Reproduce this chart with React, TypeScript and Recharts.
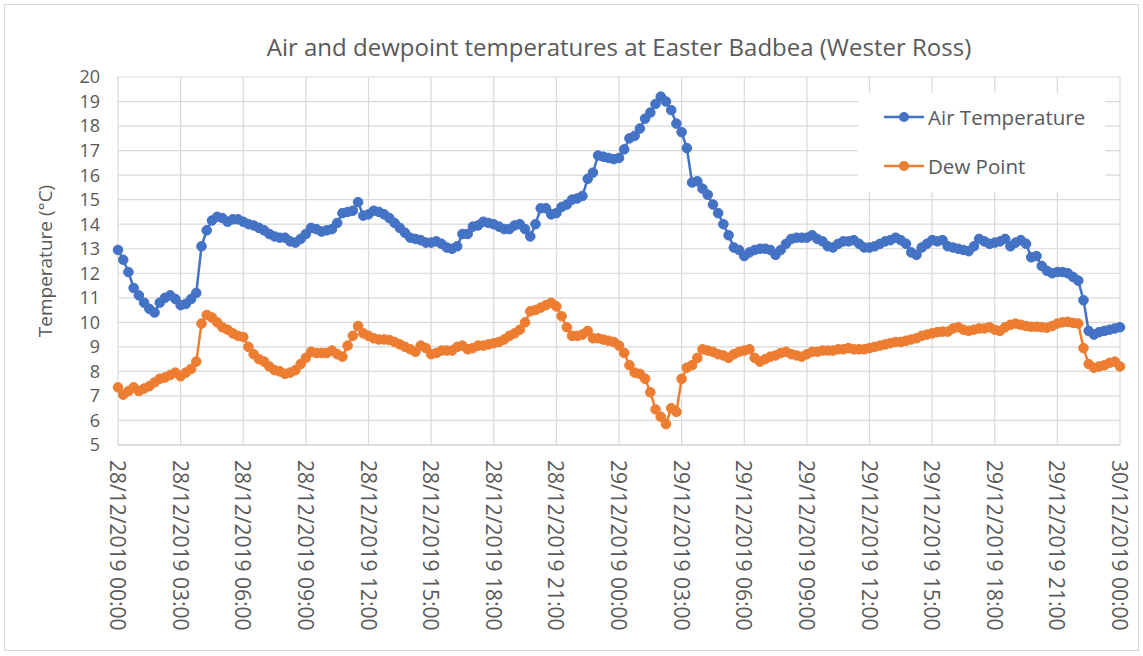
import React from "react";
import {
  LineChart,
  Line,
  XAxis,
  YAxis,
  CartesianGrid,
  Legend,
} from "recharts";

// readings every 15 minutes from 28/12/2019 00:00 to 30/12/2019 00:00
const STEP_HOURS = 0.25;

// four readings per hour, one row per hour
const airTemp = [
  12.95, 12.55, 12.05, 11.4,
  11.1, 10.8, 10.55, 10.4,
  10.8, 11.0, 11.1, 10.95,
  10.7, 10.75, 10.95, 11.2,
  13.1, 13.75, 14.15, 14.3,
  14.25, 14.1, 14.2, 14.2,
  14.1, 14.0, 13.95, 13.85,
  13.75, 13.6, 13.5, 13.45,
  13.45, 13.3, 13.25, 13.4,
  13.6, 13.85, 13.8, 13.7,
  13.75, 13.8, 14.05, 14.45,
  14.5, 14.55, 14.9, 14.35,
  14.4, 14.55, 14.5, 14.4,
  14.25, 14.05, 13.85, 13.65,
  13.45, 13.4, 13.35, 13.25,
  13.25, 13.3, 13.2, 13.05,
  13.0, 13.1, 13.6, 13.6,
  13.9, 13.95, 14.1, 14.05,
  14.0, 13.9, 13.8, 13.8,
  13.95, 14.0, 13.8, 13.5,
  14.0, 14.65, 14.65, 14.4,
  14.45, 14.7, 14.8, 15.0,
  15.05, 15.15, 15.85, 16.1,
  16.8, 16.75, 16.7, 16.65,
  16.7, 17.05, 17.5, 17.6,
  17.9, 18.3, 18.55, 18.9,
  19.2, 19.0, 18.65, 18.1,
  17.75, 17.1, 15.7, 15.75,
  15.45, 15.2, 14.8, 14.45,
  14.0, 13.55, 13.05, 12.95,
  12.7, 12.85, 12.95, 13.0,
  13.0, 12.95, 12.75, 12.95,
  13.2, 13.4, 13.45, 13.45,
  13.45, 13.55, 13.4, 13.3,
  13.1, 13.05, 13.2, 13.3,
  13.3, 13.35, 13.2, 13.05,
  13.05, 13.1, 13.2, 13.3,
  13.35, 13.45, 13.35, 13.2,
  12.85, 12.75, 13.05, 13.2,
  13.35, 13.3, 13.35, 13.1,
  13.05, 13.0, 12.95, 12.9,
  13.1, 13.4, 13.3, 13.2,
  13.25, 13.3, 13.4, 13.1,
  13.25, 13.35, 13.2, 12.65,
  12.7, 12.3, 12.1, 12.0,
  12.05, 12.05, 12.0, 11.85,
  11.7, 10.9, 9.65, 9.5,
  9.6, 9.65, 9.7, 9.75,
  9.8,
];

const dewPoint = [
  7.35, 7.05, 7.2, 7.35,
  7.2, 7.3, 7.4, 7.55,
  7.7, 7.75, 7.85, 7.95,
  7.8, 7.95, 8.1, 8.4,
  9.95, 10.3, 10.2, 10.0,
  9.8, 9.7, 9.55, 9.45,
  9.4, 9.0, 8.7, 8.5,
  8.4, 8.2, 8.05, 8.0,
  7.9, 7.95, 8.05, 8.3,
  8.55, 8.8, 8.75, 8.75,
  8.75, 8.85, 8.7, 8.6,
  9.05, 9.45, 9.85, 9.55,
  9.45, 9.35, 9.3, 9.3,
  9.28, 9.2, 9.1, 9.0,
  8.9, 8.8, 9.05, 8.95,
  8.7, 8.75, 8.85, 8.85,
  8.85, 9.0, 9.05, 8.9,
  8.95, 9.05, 9.05, 9.1,
  9.15, 9.2, 9.3, 9.45,
  9.55, 9.7, 10.0, 10.45,
  10.5, 10.6, 10.7, 10.8,
  10.65, 10.25, 9.8, 9.45,
  9.45, 9.5, 9.65, 9.35,
  9.35, 9.3, 9.25, 9.2,
  9.05, 8.75, 8.25, 7.95,
  7.9, 7.7, 7.15, 6.45,
  6.15, 5.85, 6.5, 6.35,
  7.7, 8.15, 8.25, 8.55,
  8.9, 8.85, 8.8, 8.7,
  8.65, 8.55, 8.7, 8.8,
  8.85, 8.9, 8.55, 8.4,
  8.5, 8.6, 8.65, 8.75,
  8.8, 8.7, 8.65, 8.6,
  8.7, 8.8, 8.8, 8.85,
  8.85, 8.85, 8.9, 8.9,
  8.95, 8.9, 8.9, 8.9,
  8.95, 9.0, 9.05, 9.1,
  9.15, 9.2, 9.2, 9.25,
  9.3, 9.35, 9.45, 9.5,
  9.55, 9.6, 9.62, 9.62,
  9.75, 9.8, 9.7, 9.65,
  9.7, 9.75, 9.75, 9.8,
  9.7, 9.65, 9.8, 9.9,
  9.95, 9.9, 9.85, 9.82,
  9.82, 9.8, 9.78, 9.85,
  9.95, 10.0, 10.02, 9.98,
  9.95, 8.95, 8.3, 8.15,
  8.2, 8.25, 8.35, 8.4,
  8.2,
];

const tickHours = [0, 3, 6, 9, 12, 15, 18, 21, 24, 27, 30, 33, 36, 39, 42, 45, 48];
const tickLabels = [
  "28/12/2019 00:00",
  "28/12/2019 03:00",
  "28/12/2019 06:00",
  "28/12/2019 09:00",
  "28/12/2019 12:00",
  "28/12/2019 15:00",
  "28/12/2019 18:00",
  "28/12/2019 21:00",
  "29/12/2019 00:00",
  "29/12/2019 03:00",
  "29/12/2019 06:00",
  "29/12/2019 09:00",
  "29/12/2019 12:00",
  "29/12/2019 15:00",
  "29/12/2019 18:00",
  "29/12/2019 21:00",
  "30/12/2019 00:00",
];
const tempTicks = [5, 6, 7, 8, 9, 10, 11, 12, 13, 14, 15, 16, 17, 18, 19, 20];

const data = airTemp.map((air, i) => ({
  t: i * STEP_HOURS,
  air,
  dew: dewPoint[i],
}));

const FONT = "'Open Sans', sans-serif";
const TEXT = "#595959";
const BLUE = "#4472C4";
const ORANGE = "#ED7D31";

function DateTick({ x, y, payload }: any) {
  const idx = tickHours.indexOf(payload.value);
  return (
    <g transform={`translate(${x},${y})`}>
      <text
        transform="rotate(90)"
        textAnchor="start"
        dominantBaseline="central"
        fill={TEXT}
        fontSize={21}
        fontFamily={FONT}
      >
        {tickLabels[idx]}
      </text>
    </g>
  );
}

function LegendBox({ payload }: any) {
  return (
    <div style={{ position: "relative", width: "100%", height: "100%" }}>
      {(payload || []).map((entry: any, i: number) => (
        <div
          key={entry.value}
          style={{
            position: "absolute",
            left: 26,
            top: 10 + i * 49,
            height: 28,
            display: "flex",
            alignItems: "center",
            whiteSpace: "nowrap",
          }}
        >
          <svg width={40} height={12}>
            <line x1={0} y1={6} x2={40} y2={6} stroke={entry.color} strokeWidth={2.5} />
            <circle cx={20} cy={6} r={5} fill={entry.color} />
          </svg>
          <span style={{ marginLeft: 4, fontSize: 20.5, color: TEXT, fontFamily: FONT }}>
            {entry.value}
          </span>
        </div>
      ))}
    </div>
  );
}

export default function App() {
  return (
    <div
      style={{
        position: "absolute",
        left: 0,
        top: 0,
        width: 1143,
        height: 656,
        background: "#fff",
        fontFamily: FONT,
      }}
    >
      <div
        style={{
          position: "absolute",
          left: 4,
          top: 4,
          width: 1133,
          height: 645,
          border: "1px solid #d9d9d9",
        }}
      />
      <div
        style={{
          position: "absolute",
          left: 0,
          width: 1238,
          top: 30,
          textAlign: "center",
          fontSize: 24,
          color: TEXT,
          whiteSpace: "nowrap",
        }}
      >
        Air and dewpoint temperatures at Easter Badbea (Wester Ross)
      </div>
      <div style={{ position: "absolute", left: 0, top: 0 }}>
        <LineChart
          width={1143}
          height={656}
          data={data}
          margin={{ top: 77, right: 23, bottom: 0, left: -28 }}
        >
          <CartesianGrid stroke="#d9d9d9" strokeWidth={1.2} />
          <XAxis
            dataKey="t"
            type="number"
            domain={[0, 48]}
            ticks={tickHours}
            interval={0}
            tickLine={false}
            axisLine={{ stroke: "#d0d0d0" }}
            tickMargin={9}
            tick={<DateTick />}
            height={211}
          />
          <YAxis
            type="number"
            domain={[5, 20]}
            ticks={tempTicks}
            interval={0}
            width={146}
            tickLine={false}
            axisLine={false}
            tickMargin={12}
            tick={{ fill: TEXT, fontSize: 18, fontFamily: FONT }}
            label={{
              value: "Temperature (°C)",
              angle: -90,
              position: "center",
              fill: TEXT,
              fontSize: 19,
              fontFamily: FONT,
            }}
          />
          <Legend
            layout="vertical"
            align="center"
            verticalAlign="middle"
            content={<LegendBox />}
            wrapperStyle={{
              left: 858,
              top: 93,
              width: 247,
              height: 99,
              background: "#fff",
            }}
          />
          <Line
            type="linear"
            dataKey="air"
            name="Air Temperature"
            stroke={BLUE}
            strokeWidth={2.5}
            dot={{ r: 4.8, fill: BLUE, stroke: BLUE, strokeWidth: 1 }}
            activeDot={false}
            isAnimationActive={false}
          />
          <Line
            type="linear"
            dataKey="dew"
            name="Dew Point"
            stroke={ORANGE}
            strokeWidth={2.5}
            dot={{ r: 4.8, fill: ORANGE, stroke: ORANGE, strokeWidth: 1 }}
            activeDot={false}
            isAnimationActive={false}
          />
        </LineChart>
      </div>
    </div>
  );
}
